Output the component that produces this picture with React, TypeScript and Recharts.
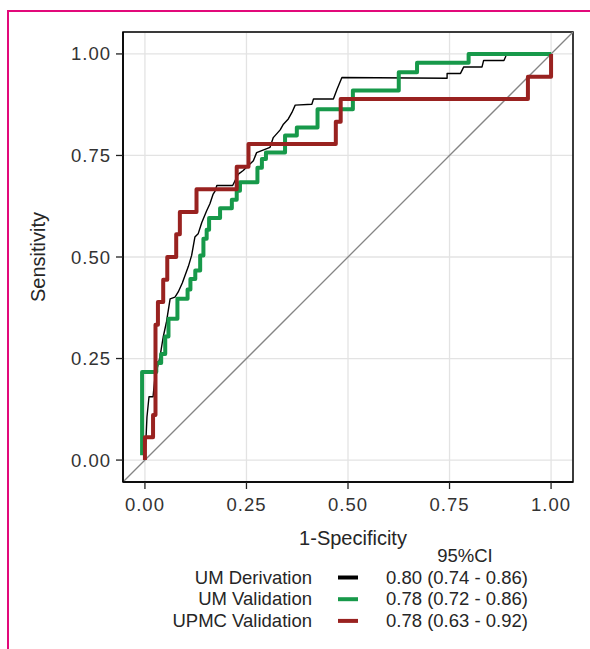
import { LineChart, Line, XAxis, YAxis, CartesianGrid, ReferenceArea } from 'recharts';

// ROC curves: [1 - specificity, sensitivity]
const umDerivation: number[][] = [
  [0, 0], [0, 0.008], [0.003, 0.061], [0.005, 0.106], [0.01, 0.156], [0.02, 0.156],
  [0.024, 0.197], [0.029, 0.221], [0.037, 0.254], [0.045, 0.303], [0.053, 0.34],
  [0.062, 0.397], [0.074, 0.401], [0.082, 0.414], [0.092, 0.436], [0.107, 0.477],
  [0.115, 0.504], [0.123, 0.549], [0.131, 0.557], [0.14, 0.585], [0.152, 0.614],
  [0.16, 0.631], [0.168, 0.655], [0.173, 0.663], [0.177, 0.676], [0.216, 0.676],
  [0.23, 0.704], [0.242, 0.713], [0.267, 0.737], [0.275, 0.757], [0.308, 0.77],
  [0.316, 0.794], [0.333, 0.813], [0.341, 0.827], [0.353, 0.84], [0.362, 0.856],
  [0.37, 0.874], [0.411, 0.876], [0.415, 0.889], [0.464, 0.889], [0.473, 0.913],
  [0.485, 0.942], [0.744, 0.94], [0.744, 0.952], [0.777, 0.952], [0.785, 0.968],
  [0.83, 0.968], [0.834, 0.984], [0.884, 0.984], [0.888, 0.993], [0.89, 1], [1, 1],
];

const umValidation: number[][] = [
  [-0.007, 0.012], [-0.007, 0.217], [0.028, 0.217], [0.028, 0.239], [0.04, 0.239],
  [0.04, 0.261], [0.05, 0.261], [0.05, 0.304], [0.058, 0.304], [0.058, 0.348],
  [0.08, 0.348], [0.08, 0.397], [0.105, 0.397], [0.105, 0.42], [0.112, 0.42],
  [0.112, 0.446], [0.124, 0.446], [0.124, 0.467], [0.136, 0.467], [0.136, 0.504],
  [0.144, 0.504], [0.144, 0.545], [0.152, 0.545], [0.152, 0.567], [0.158, 0.567],
  [0.158, 0.596], [0.185, 0.596], [0.185, 0.62], [0.214, 0.62], [0.214, 0.641],
  [0.226, 0.641], [0.226, 0.663], [0.234, 0.663], [0.234, 0.684], [0.277, 0.684],
  [0.277, 0.72], [0.288, 0.72], [0.288, 0.741], [0.298, 0.741], [0.298, 0.757],
  [0.345, 0.757], [0.345, 0.799], [0.374, 0.799], [0.374, 0.819], [0.425, 0.819],
  [0.425, 0.864], [0.512, 0.864], [0.512, 0.91], [0.625, 0.91], [0.625, 0.955],
  [0.67, 0.955], [0.67, 0.978], [0.797, 0.978], [0.797, 1], [1, 1],
];

const upmcValidation: number[][] = [
  [0, 0], [0, 0.056], [0.02, 0.056], [0.02, 0.111], [0.026, 0.111], [0.026, 0.333],
  [0.032, 0.333], [0.032, 0.389], [0.045, 0.389], [0.045, 0.444], [0.055, 0.444],
  [0.055, 0.5], [0.077, 0.5], [0.077, 0.556], [0.086, 0.556], [0.086, 0.611],
  [0.127, 0.611], [0.127, 0.667], [0.226, 0.667], [0.226, 0.722], [0.255, 0.722],
  [0.255, 0.778], [0.47, 0.778], [0.47, 0.833], [0.482, 0.833], [0.482, 0.889],
  [0.943, 0.889], [0.943, 0.944], [1, 0.944], [1, 1],
];

const axisTicks = [0, 0.25, 0.5, 0.75, 1];
const domainMin = -0.054;
const domainMax = 1.054;

const seriesNames = ['UM Derivation', 'UM Validation', 'UPMC Validation'];
const seriesColors = ['#000000', '#17994a', '#992220'];
const seriesWidths = [1.4, 4, 4];
const aucLabels = ['0.80 (0.74 - 0.86)', '0.78 (0.72 - 0.86)', '0.78 (0.63 - 0.92)'];

const toPoints = (arr: number[][]) => arr.map(([x, y]) => ({ x, y }));
const diagonal = toPoints([[domainMin, domainMin], [domainMax, domainMax]]);
const curves = [umDerivation, umValidation, upmcValidation].map(toPoints);

const FONT = '"Liberation Sans", Arial, Helvetica, sans-serif';
const TEXT = '#262626';
const tickStyle = { fontSize: 18.5, fill: '#333', fontFamily: FONT, letterSpacing: 1 };

export default function App() {
  return (
    <div style={{ position: 'absolute', left: 0, top: 0, width: 590, height: 649, background: '#fff', overflow: 'hidden', fontFamily: FONT }}>
      <div style={{ position: 'absolute', left: 7, top: 10, width: 600, height: 660, borderTop: '2px solid #e2097a', borderLeft: '2px solid #e2097a' }} />
      <LineChart width={590} height={649} margin={{ top: 32, right: 17, left: 63, bottom: 127 }}>
        <CartesianGrid stroke="#e3e3e3" strokeWidth={1.3} />
        <XAxis
          type="number"
          dataKey="x"
          domain={[domainMin, domainMax]}
          ticks={axisTicks}
          tickFormatter={(v: number) => v.toFixed(2)}
          tick={tickStyle}
          tickSize={7}
          tickMargin={9}
          height={40}
          axisLine={{ stroke: '#000', strokeWidth: 1.5 }}
          tickLine={{ stroke: '#222', strokeWidth: 1.3 }}
          allowDataOverflow
        />
        <YAxis
          type="number"
          dataKey="y"
          domain={[domainMin, domainMax]}
          ticks={axisTicks}
          tickFormatter={(v: number) => v.toFixed(2)}
          tick={tickStyle}
          tickSize={7}
          tickMargin={5}
          width={60}
          axisLine={{ stroke: '#000', strokeWidth: 1.5 }}
          tickLine={{ stroke: '#222', strokeWidth: 1.3 }}
          allowDataOverflow
        />
        <ReferenceArea x1={domainMin} x2={domainMax} y1={domainMin} y2={domainMax} fill="none" fillOpacity={0} stroke="#000" strokeWidth={1.5} />
        <Line data={diagonal} dataKey="y" stroke="#858585" strokeWidth={1.3} dot={false} activeDot={false} isAnimationActive={false} />
        {curves.map((pts, i) => (
          <Line
            key={seriesNames[i]}
            data={pts}
            dataKey="y"
            name={seriesNames[i]}
            stroke={seriesColors[i]}
            strokeWidth={seriesWidths[i]}
            strokeLinejoin="round"
            dot={false}
            activeDot={false}
            isAnimationActive={false}
          />
        ))}
      </LineChart>
      <svg width={590} height={649} style={{ position: 'absolute', left: 0, top: 0, pointerEvents: 'none' }}>
        <text x={38} y={257} transform="rotate(-90 38 257)" textAnchor="middle" dominantBaseline="central" fontSize={20} fill={TEXT} fontFamily={FONT}>
          Sensitivity
        </text>
        <text x={353} y={545} textAnchor="middle" fontSize={20} fill={TEXT} fontFamily={FONT}>
          1-Specificity
        </text>
        <text x={465} y={562} textAnchor="middle" fontSize={18.5} fill={TEXT} fontFamily={FONT}>
          95%CI
        </text>
        {seriesNames.map((name, i) => {
          const base = 583.5 + i * 21.7;
          return (
            <g key={name}>
              <text x={312} y={base} textAnchor="end" fontSize={18.5} fill={TEXT} fontFamily={FONT}>
                {name}
              </text>
              <line x1={338} x2={358} y1={base - 6} y2={base - 6} stroke={seriesColors[i]} strokeWidth={4} />
              <text x={386} y={base} fontSize={18.5} fill={TEXT} fontFamily={FONT}>
                {aucLabels[i]}
              </text>
            </g>
          );
        })}
      </svg>
    </div>
  );
}
